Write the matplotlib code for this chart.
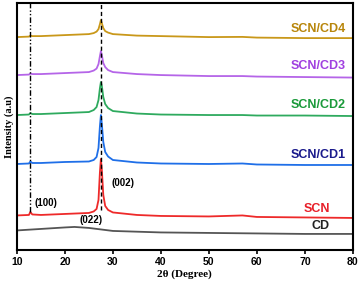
import matplotlib
matplotlib.use("Agg")
import matplotlib.pyplot as plt

# 2theta positions (degrees)
two_theta = [10, 12.5, 12.8, 13.2, 15, 20, 25, 26, 26.6, 27.0, 27.3, 27.5, 27.7, 28.0,
             28.4, 29, 30, 35, 40, 50, 57, 60, 70, 80]
# stacked intensities (arbitrary units, offset)
scn_cd4 = [213, 213.5, 214.5, 214, 214, 215, 216, 217, 218.5, 221, 226, 230, 227, 222,
           219, 217.5, 216, 214.5, 214, 213, 213.2, 212.5, 212, 212]
scn_cd3 = [175, 175.5, 176.5, 176, 176, 177, 178, 179.5, 181.5, 186, 194, 199, 195, 187,
           183, 180, 178, 176, 175, 174, 174, 173.5, 173, 172.5]
scn_cd2 = [135, 135.5, 137, 136, 136, 137, 138, 140, 143, 150, 162, 168, 164, 153,
           146, 142, 139, 136.5, 135.5, 135, 135, 134.5, 134.5, 134]
scn_cd1 = [86, 86.5, 88.5, 87, 87, 88, 88.5, 90, 93, 102, 124, 135, 126, 108,
           98, 93.5, 90, 87.5, 86.5, 86, 86.5, 85.5, 85, 85]
scn = [34.5, 35, 38, 35.5, 35, 36, 37, 38.5, 41, 50, 78, 91, 80, 55,
       44, 40, 37.5, 35, 34, 33.5, 34.5, 33, 32.5, 32]
cd_theta = [10, 15, 20, 22, 25, 30, 40, 50, 60, 70, 80]
cd = [19.5, 21, 22.5, 23, 22, 19, 17.5, 17, 16.5, 16, 16]

names = ["SCN/CD4", "SCN/CD3", "SCN/CD2", "SCN/CD1", "SCN", "CD"]
line_colors = ["#c9981a", "#b565e8", "#2eaa5e", "#1f6fe8", "#ee2a2a", "#555555"]
label_colors = ["#b8860b", "#a040e0", "#1a9a3a", "#1a1a8c", "#e8202a", "#222222"]
label_y = [221, 184, 145, 95, 41, 24]

fig = plt.figure(figsize=(3.6, 2.84), dpi=100)
ax = fig.add_axes([0.047, 0.12, 0.933, 0.869])

series = [scn_cd4, scn_cd3, scn_cd2, scn_cd1, scn]
for ys, c in zip(series, line_colors[:5]):
    ax.plot(two_theta, ys, color=c, lw=1.3)
ax.plot(cd_theta, cd, color=line_colors[5], lw=1.3)

# reference lines
ax.plot([12.8, 12.8], [38, 250], color="black", lw=1.0, dashes=[4, 1.5, 1, 1.5, 1, 1.5])
ax.plot([27.5, 27.5], [40, 250], color="black", lw=1.0, ls=(0, (3, 2)))

for name, col, yy in zip(names, label_colors, label_y):
    xr = 78.5 if "/" in name else 75.2
    ax.text(xr, yy, name, color=col, fontsize=9, fontweight="bold",
            ha="right", va="center", family="Liberation Sans")

ax.text(16.0, 47, "(100)", fontsize=7, fontweight="bold", ha="center", va="center", family="Liberation Sans")
ax.text(32.1, 67, "(002)", fontsize=7, fontweight="bold", ha="center", va="center", family="Liberation Sans")
ax.text(25.4, 30, "(022)", fontsize=7, fontweight="bold", ha="center", va="center", family="Liberation Sans")

ax.set_xlim(10, 80)
ax.set_ylim(0, 247)
ax.set_yticks([])
ax.set_xticks([10, 20, 30, 40, 50, 60, 70, 80])
ax.tick_params(axis="x", direction="out", length=3, width=1.2, labelsize=7.5, pad=2)
for lab in ax.get_xticklabels():
    lab.set_fontweight("bold")
    lab.set_family("Liberation Sans")
for s in ax.spines.values():
    s.set_linewidth(1.5)

ax.set_xlabel("2θ (Degree)", fontsize=8, fontweight="bold", family="Liberation Serif", labelpad=2)
ax.set_ylabel("Intensity (a.u)", fontsize=7.5, fontweight="bold", family="Liberation Serif", labelpad=2)

fig.savefig("out.png", dpi=100)
